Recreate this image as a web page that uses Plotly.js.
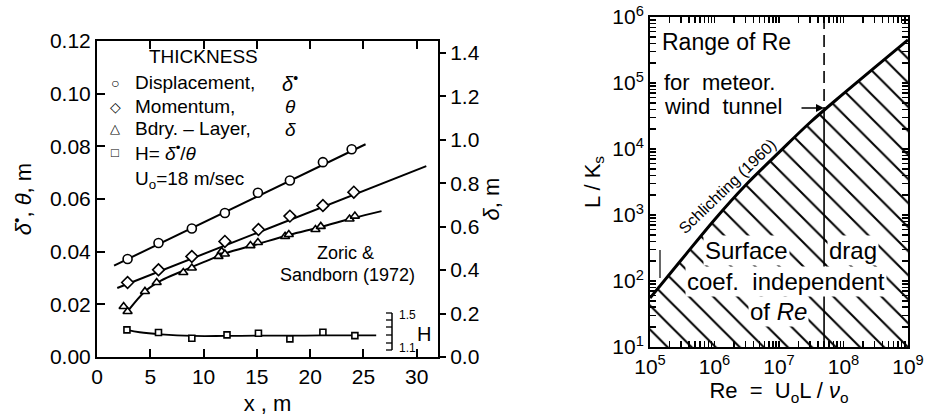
<!DOCTYPE html>
<html>
<head>
<meta charset="utf-8">
<script src="https://cdn.plot.ly/plotly-3.0.1.min.js"></script>
<style>html,body{margin:0;padding:0;background:#fff;}#chart{width:931px;height:418px;}</style>
</head>
<body>
<div id="chart"></div>
<script>
// ---------- Left panel data (Zoric & Sandborn 1972), x in m ----------
const dispX = [2.87, 5.77, 8.9, 12.0, 15.1, 18.1, 21.2, 23.9];
const dispY = [0.0372, 0.0433, 0.0488, 0.0547, 0.0624, 0.0670, 0.0740, 0.0789];
const momX  = [2.87, 5.77, 8.9, 12.0, 15.15, 18.1, 21.2, 24.1];
const momY  = [0.0283, 0.0331, 0.0382, 0.0439, 0.0484, 0.0535, 0.0575, 0.0626];
const bdryX = [2.5, 2.87, 4.5, 5.6, 8.1, 8.9, 11.4, 11.7, 12.0, 14.4, 15.1, 17.65, 18.0, 20.5, 21.0, 23.7, 24.2];
const bdryY = [0.0192, 0.0173, 0.0249, 0.0283, 0.0321, 0.0338, 0.0382, 0.0401, 0.0391, 0.0423, 0.0435, 0.0458, 0.0465, 0.0484, 0.0496, 0.0524, 0.0535];
const hX    = [2.81, 5.77, 8.9, 12.2, 15.15, 18.1, 21.2, 24.2];
const hY    = [0.0103, 0.0093, 0.0071, 0.0084, 0.0090, 0.0069, 0.0094, 0.0081];
// fitted curves
const dispLineX = [1.6, 25.2];
const dispLineY = [0.0347, 0.0808];
const momLineX  = [1.9, 30.9];
const momLineY  = [0.0262, 0.0725];
const bdryLineX = [2.87, 4.5, 6, 8, 10, 12, 15, 18, 21, 24, 26.7];
const bdryLineY = [0.0173, 0.0249, 0.0290, 0.0326, 0.0360, 0.0393, 0.0428, 0.0463, 0.0494, 0.0527, 0.0554];
const hLineX = [2.81, 4, 6, 9, 12, 15, 18, 21, 24, 26.2];
const hLineY = [0.0103, 0.0094, 0.0086, 0.0080, 0.0080, 0.0081, 0.0081, 0.0082, 0.0082, 0.0082];

// ---------- Right panel data (Schlichting 1960) ----------
const schRe = [1e5, 3e5, 1e6, 3e6, 1e7, 3e7, 1e8, 3e8, 1e9];
const schLK = [55, 204, 850, 2800, 8900, 25000, 69000, 170000, 450000];
const tunnelRe = 5e7;
const tunnelLK = 3.9e4;
const lkTop = 1e6, lkBottom = 10;
const reTicks = [1e5, 1e6, 1e7, 1e8, 1e9];
const reTickText = ['10<sup>5</sup>', '10<sup>6</sup>', '10<sup>7</sup>', '10<sup>8</sup>', '10<sup>9</sup>'];
const lkTicks = [1e1, 1e2, 1e3, 1e4, 1e5, 1e6];
const lkTickText = ['10<sup>1</sup>', '10<sup>2</sup>', '10<sup>3</sup>', '10<sup>4</sup>', '10<sup>5</sup>', '10<sup>6</sup>'];

// ---------- helpers (pixel -> paper) ----------
const W = 931, H = 418;
const PX = x => x / W;
const PY = y => 1 - y / H;
const FONT = 'Liberation Sans, Arial, sans-serif';

// major decade ticks plus unlabelled minor ticks 2..9 x 10^k
function logTicks(majors, labels) {
  const vals = majors.slice(), text = labels.slice();
  for (let i = 0; i < majors.length - 1; i++) for (let m = 2; m <= 9; m++) { vals.push(majors[i] * m); text.push(''); }
  return {vals: vals, text: text};
}
const reT = logTicks(reTicks, reTickText);
const lkT = logTicks(lkTicks, lkTickText);

const mk = (sym, size) => ({symbol: sym, size: size, color: 'white', line: {color: 'black', width: 1.6}});
const ln = {color: 'black', width: 2};

const traces = [
  {x: dispLineX, y: dispLineY, mode: 'lines', line: ln, xaxis: 'x', yaxis: 'y', hoverinfo: 'skip'},
  {x: momLineX, y: momLineY, mode: 'lines', line: ln, xaxis: 'x', yaxis: 'y', hoverinfo: 'skip'},
  {x: bdryLineX, y: bdryLineY, mode: 'lines', line: Object.assign({shape: 'spline'}, ln), xaxis: 'x', yaxis: 'y', hoverinfo: 'skip'},
  {x: hLineX, y: hLineY, mode: 'lines', line: {color: 'black', width: 1.8, shape: 'spline'}, xaxis: 'x', yaxis: 'y', hoverinfo: 'skip'},
  {x: dispX, y: dispY, mode: 'markers', marker: mk('circle', 9), xaxis: 'x', yaxis: 'y', name: 'Displacement'},
  {x: momX, y: momY, mode: 'markers', marker: mk('diamond', 9), xaxis: 'x', yaxis: 'y', name: 'Momentum'},
  {x: bdryX, y: bdryY, mode: 'markers', marker: mk('triangle-up', 8), xaxis: 'x', yaxis: 'y', name: 'Bdry.-Layer'},
  {x: hX, y: hY, mode: 'markers', marker: mk('square', 6), xaxis: 'x', yaxis: 'y', name: 'H'},
  {x: [null], y: [null], mode: 'markers', xaxis: 'x', yaxis: 'y2', hoverinfo: 'skip'},
  // right panel
  {x: schRe.concat([1e9, 1e5]), y: schLK.concat([lkBottom, lkBottom]), mode: 'lines', fill: 'toself',
   fillcolor: 'rgba(255,255,255,0)', line: {width: 0},
   fillpattern: {shape: '\\', size: 17, solidity: 0.12, fgcolor: 'black', bgcolor: 'rgba(255,255,255,0)'},
   xaxis: 'x2', yaxis: 'y3', hoverinfo: 'skip'},
  {x: [tunnelRe, tunnelRe], y: [lkTop, tunnelLK], mode: 'lines', line: {color: 'black', width: 1.6, dash: '12px,6px'}, xaxis: 'x2', yaxis: 'y3', hoverinfo: 'skip'},
  {x: [tunnelRe, tunnelRe], y: [tunnelLK, lkBottom], mode: 'lines', line: {color: 'black', width: 1.6}, xaxis: 'x2', yaxis: 'y3', hoverinfo: 'skip'},
  {x: schRe, y: schLK, mode: 'lines', line: {color: 'black', width: 3, shape: 'spline'}, xaxis: 'x2', yaxis: 'y3', name: 'Schlichting (1960)'}
];

const tickFont = {family: FONT, size: 21, color: 'black'};
const titleFont = {family: FONT, size: 22, color: 'black'};

const ann = [];
function T(text, x, y, size, opts) {
  ann.push(Object.assign({text: text, x: PX(x), y: PY(y), xref: 'paper', yref: 'paper', showarrow: false,
    font: {family: FONT, size: size, color: 'black'}, xanchor: 'center', yanchor: 'middle'}, opts || {}));
}
// left legend block
T('THICKNESS', 203, 57, 19);
T('○', 115, 83, 14); T('◇', 115, 107, 14); T('△', 115, 128, 13); T('□', 115, 152, 13);
T('Displacement,', 133, 83, 19, {xanchor: 'left'});
T('Momentum,', 133, 107, 19, {xanchor: 'left'});
T('Bdry. – Layer,', 133, 128, 19, {xanchor: 'left'});
T('H= <i>δ</i><sup>•</sup>/<i>θ</i>', 133, 152, 19, {xanchor: 'left'});
T('<i>δ</i><sup>•</sup>', 290, 82, 20);
T('<i>θ</i>', 290, 106, 19);
T('<i>δ</i>', 290, 129, 19);
T('U<sub>o</sub>=18 m/sec', 133, 180, 19, {xanchor: 'left'});
T('Zoric &', 345, 253, 18);
T('Sandborn (1972)', 347, 275, 18);
T('1.5', 407, 315, 12);
T('1.1', 407, 348, 12);
T('H', 424, 334, 20);
// right panel texts
T('Range of Re', 660, 42, 23, {xanchor: 'left'});
T('for  meteor.', 662, 83, 22, {xanchor: 'left'});
T('wind  tunnel', 662, 106, 22, {xanchor: 'left'});
T('Schlichting (1960)', 727, 186, 16, {textangle: -44});
T('Surface', 746, 250, 24, {bgcolor: 'white'});
T('drag', 853, 250, 24, {bgcolor: 'white'});
T('coef.  independent', 786, 281, 24, {bgcolor: 'white'});
T('of <i>Re</i>', 778, 311, 24, {bgcolor: 'white'});
// arrow to wind tunnel limit
ann.push({x: PX(824), y: PY(108), xref: 'paper', yref: 'paper', ax: -24, ay: 0, text: '', showarrow: true,
  arrowhead: 2, arrowsize: 1, arrowwidth: 1.6, arrowcolor: 'black'});

const shp = [];
// little H scale bar
shp.push({type: 'line', xref: 'paper', yref: 'paper', x0: PX(392), x1: PX(392), y0: PY(313), y1: PY(350), line: {color: 'black', width: 1.5}});
[313, 320, 327, 335, 343, 350].forEach(v => shp.push({type: 'line', xref: 'paper', yref: 'paper', x0: PX(386), x1: PX(392), y0: PY(v), y1: PY(v), line: {color: 'black', width: 1.3}}));
// leader near Schlichting label
shp.push({type: 'line', xref: 'paper', yref: 'paper', x0: PX(660), x1: PX(660), y0: PY(250), y1: PY(278), line: {color: 'black', width: 1.2}});

const layout = {
  width: W, height: H,
  margin: {l: 0, r: 0, t: 0, b: 0},
  paper_bgcolor: 'white', plot_bgcolor: 'white',
  showlegend: false,
  font: {family: FONT, color: 'black'},
  xaxis: {domain: [PX(97), PX(438)], range: [0, 32], dtick: 5, tick0: 0, ticks: 'inside', ticklen: 8, tickwidth: 2, tickcolor: 'black',
    showline: true, linewidth: 2, linecolor: 'black', mirror: 'ticks', showgrid: false, zeroline: false,
    tickfont: tickFont, anchor: 'y', layer: 'above traces', title: {text: 'x , m', font: titleFont, standoff: 8}},
  yaxis: {domain: [PY(357), PY(41)], range: [0, 0.12], dtick: 0.02, tick0: 0, tickformat: '.2f', ticks: 'inside', ticklen: 8, tickwidth: 2, tickcolor: 'black',
    showline: true, linewidth: 2, linecolor: 'black', mirror: true, showgrid: false, zeroline: false,
    tickfont: tickFont, anchor: 'x', layer: 'above traces', title: {text: '<i>δ</i><sup>•</sup>, <i>θ</i>, m', font: titleFont, standoff: 12}},
  yaxis2: {overlaying: 'y', side: 'right', anchor: 'x', range: [0, 1.455], dtick: 0.2, tick0: 0, tickformat: '.1f',
    ticks: 'outside', ticklen: 7, tickwidth: 2, tickcolor: 'black', showline: false, showgrid: false, zeroline: false,
    tickfont: tickFont, title: {text: '<i>δ</i>, m', font: titleFont, standoff: 0}},
  xaxis2: {domain: [PX(650), PX(908)], type: 'log', range: [4.9995, 9.0005], tickmode: 'array', tickvals: reT.vals, ticktext: reT.text,
    ticks: 'inside', ticklen: 6, tickwidth: 1.5, tickcolor: 'black', showline: true, linewidth: 2, linecolor: 'black', mirror: 'ticks',
    showgrid: false, zeroline: false, tickfont: tickFont, anchor: 'y3', layer: 'above traces',
    title: {text: 'Re  =  U<sub>o</sub>L / <i>ν</i><sub>o</sub>', font: titleFont, standoff: 4}},
  yaxis3: {domain: [PY(347), PY(17)], type: 'log', range: [0.9995, 6.0005], tickmode: 'array', tickvals: lkT.vals, ticktext: lkT.text,
    ticks: 'inside', ticklen: 6, tickwidth: 1.5, tickcolor: 'black', showline: true, linewidth: 2, linecolor: 'black', mirror: 'ticks',
    showgrid: false, zeroline: false, tickfont: tickFont, anchor: 'x2', layer: 'above traces',
    title: {text: 'L / K<sub>s</sub>', font: titleFont, standoff: 6}},
  annotations: ann,
  shapes: shp
};

Plotly.newPlot('chart', traces, layout, {staticPlot: true, displayModeBar: false});
</script>
</body>
</html>
